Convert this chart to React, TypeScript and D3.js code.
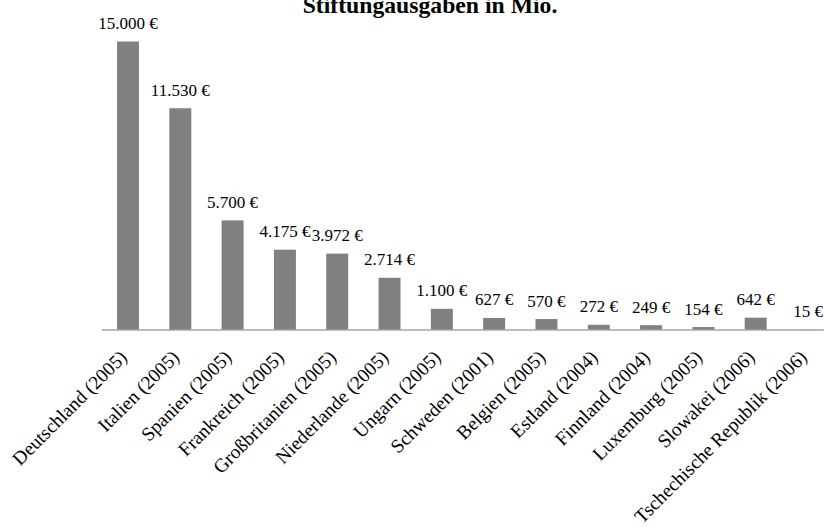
import React from "react";
import * as d3 from "d3";

const categories = [
  "Deutschland (2005)",
  "Italien (2005)",
  "Spanien (2005)",
  "Frankreich (2005)",
  "Großbritanien (2005)",
  "Niederlande (2005)",
  "Ungarn (2005)",
  "Schweden (2001)",
  "Belgien (2005)",
  "Estland (2004)",
  "Finnland (2004)",
  "Luxemburg (2005)",
  "Slowakei (2006)",
  "Tschechische Republik (2006)",
];
const values = [15000, 11530, 5700, 4175, 3972, 2714, 1100, 627, 570, 272, 249, 154, 642, 15];
const title = "Stiftungausgaben in Mio.";

const W = 824;
const H = 527;
const FONT = "'Liberation Serif', 'Times New Roman', serif";

export default function App() {
  const x = d3
    .scaleBand<string>()
    .domain(categories)
    .range([102, 834])
    .paddingInner(0.58)
    .paddingOuter(0.287);
  const y = d3.scaleLinear().domain([0, 15000]).range([330, 41.5]);
  const fmt = (v: number) => d3.format(",")(v).replace(/,/g, ".") + " €";

  return (
    <svg
      width={W}
      height={H}
      style={{ position: "absolute", left: 0, top: 0, background: "#fff" }}
      fontFamily={FONT}
    >
      <text x={430} y={12.5} textAnchor="middle" fontWeight="bold" fontSize={23.7}>
        {title}
      </text>
      {categories.map((c, i) => {
        const bx = x(c)!;
        const bw = x.bandwidth();
        const top = y(values[i]);
        return (
          <g key={c}>
            <rect x={bx} y={top} width={bw} height={y(0) - top} fill="#808080" />
            <text x={bx + bw / 2} y={top - 12.5} textAnchor="middle" fontSize={17}>
              {fmt(values[i])}
            </text>
          </g>
        );
      })}
      <line x1={102} x2={W} y1={330} y2={330} stroke="#a6a6a6" strokeWidth={1.5} />
      {categories.map((c) => {
        const cx = x(c)! + x.bandwidth() / 2;
        return (
          <text
            key={"l" + c}
            transform={`translate(${cx},358.5) rotate(-45)`}
            textAnchor="end"
            fontSize={19.3}
          >
            {c}
          </text>
        );
      })}
    </svg>
  );
}
